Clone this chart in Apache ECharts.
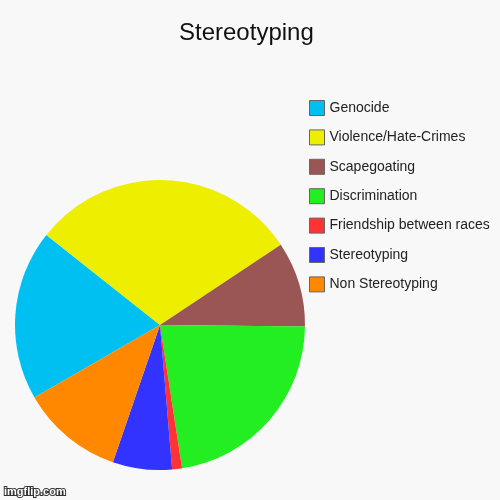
<!DOCTYPE html>
<html><head><meta charset="utf-8">
<script src="https://cdn.jsdelivr.net/npm/echarts@6/dist/echarts.min.js"></script>
<style>html,body{margin:0;padding:0;background:#f8f8f8;}#c{width:500px;height:500px;}</style>
</head><body><div id="c"></div>
<script>
var categories = ['Genocide','Violence/Hate-Crimes','Scapegoating','Discrimination','Friendship between races','Stereotyping','Non Stereotyping'];
var values = [19, 30, 9.5, 22.4, 1.1, 6.6, 11.4];
var colors = ['#00C0F2','#EEEE00','#9A5555','#22EE22','#FF3333','#3333FF','#FF8800'];
var titleText = 'Stereotyping';

var chart = echarts.init(document.getElementById('c'));
chart.setOption({
  backgroundColor: '#f8f8f8',
  animation: false,
  color: colors,
  title: {
    text: titleText, left: 179, top: 21, padding: 0,
    textStyle: {fontFamily: 'Liberation Sans, Arial, sans-serif', fontSize: 24, fontWeight: 'normal', color: '#111'}
  },
  legend: {
    orient: 'vertical', left: 309, top: 100, padding: 0,
    itemWidth: 15, itemHeight: 15, itemGap: 13.4,
    icon: 'rect',
    itemStyle: {borderColor: '#666', borderWidth: 1},
    textStyle: {fontFamily: 'Liberation Sans, Arial, sans-serif', fontSize: 14, color: '#222'},
    data: categories
  },
  graphic: [{
    type: 'text', left: 3, top: 485,
    style: {text: 'imgflip.com', fill: '#fff', stroke: '#333', lineWidth: 2, font: 'bold 11px Liberation Sans, Arial, sans-serif'}
  }],
  series: [{
    type: 'pie',
    center: [160, 325],
    radius: [0, 145],
    startAngle: 210,
    clockwise: true,
    label: {show: false},
    labelLine: {show: false},
    emphasis: {disabled: true},
    itemStyle: {borderWidth: 0},
    data: categories.map(function(n, i){ return {name: n, value: values[i]}; })
  }]
});
</script></body></html>
